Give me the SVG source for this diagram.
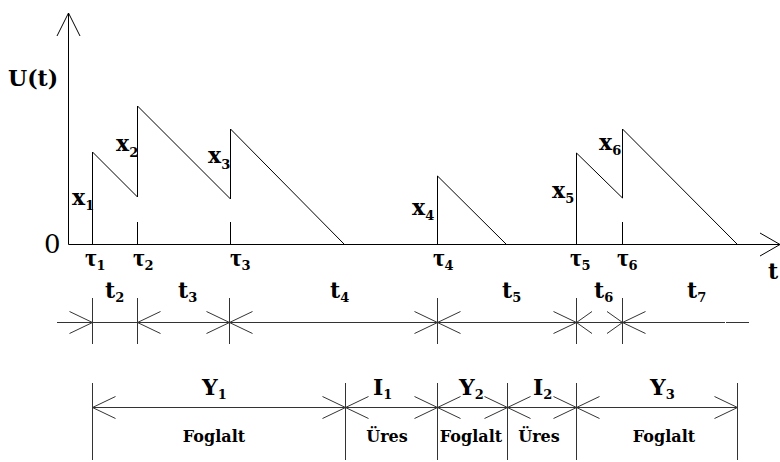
<svg xmlns="http://www.w3.org/2000/svg" xmlns:xlink="http://www.w3.org/1999/xlink" width="780" height="462" viewBox="0 0 780 462">
<style>
.ln{fill:none;stroke:#000;stroke-width:1}
.gl{fill:none;stroke:#333;stroke-width:1}
.lb{font-family:"DejaVu Serif","Liberation Serif",serif;font-weight:bold;font-size:22px;fill:#000}
.sb{font-size:13px}
.tau{font-family:"Liberation Serif","DejaVu Serif",serif;font-weight:bold;font-size:25px;fill:#000}
.tsb{font-family:"DejaVu Serif","Liberation Serif",serif;font-size:13px}
.st{font-family:"DejaVu Serif","Liberation Serif",serif;font-weight:bold;font-size:16px;fill:#000;text-anchor:middle}
</style>
<defs>
<path id="aR" class="gl" d="M-23,-11 L0,0 L-23,11"/>
<path id="aL" class="gl" d="M23,-11 L0,0 L23,11"/>
</defs>
<rect width="780" height="462" fill="#fff"/>
<g id="axes">
<path class="ln" d="M68.5,13 V244.5 H780"/>
<path class="ln" d="M57,36 L68.5,13 L80,36"/>
<path class="ln" d="M760,233 L780,244.5 L760,256"/>
<text class="lb" x="8" y="86">U(t)</text>
<text x="44" y="253" style="font-family:'DejaVu Serif','Liberation Serif',serif;font-size:26px">0</text>
<text class="lb" x="768" y="279">t</text>
</g>
<g id="curve">
<path class="ln" d="M92.5,244 V152 L137.5,197 V106 L230.5,199 V129 L344,244"/>
<path class="ln" d="M137.5,222 V244 M230.5,222 V244"/>
<path class="ln" d="M437.5,244 V176 L506,244"/>
<path class="ln" d="M576.5,244 V153 L622.5,198 V129 L737,244"/>
<path class="ln" d="M622.5,222 V244"/>
</g>
<g id="labels-x">
<text class="lb" x="72" y="205">x<tspan class="sb" dy="5">1</tspan></text>
<text class="lb" x="116" y="151">x<tspan class="sb" dy="6">2</tspan></text>
<text class="lb" x="208" y="163">x<tspan class="sb" dy="6">3</tspan></text>
<text class="lb" x="412" y="215">x<tspan class="sb" dy="5">4</tspan></text>
<text class="lb" x="552" y="198">x<tspan class="sb" dy="5">5</tspan></text>
<text class="lb" x="599" y="150">x<tspan class="sb" dy="5">6</tspan></text>
</g>
<g id="labels-tau">
<text class="tau" x="85" y="266">τ<tspan class="tsb" dy="4" font-weight="bold">1</tspan></text>
<text class="tau" x="133" y="266">τ<tspan class="tsb" dy="4" font-weight="bold">2</tspan></text>
<text class="tau" x="230" y="266">τ<tspan class="tsb" dy="4" font-weight="bold">3</tspan></text>
<text class="tau" x="433" y="266">τ<tspan class="tsb" dy="4" font-weight="bold">4</tspan></text>
<text class="tau" x="570" y="266">τ<tspan class="tsb" dy="4" font-weight="bold">5</tspan></text>
<text class="tau" x="617" y="266">τ<tspan class="tsb" dy="4" font-weight="bold">6</tspan></text>
</g>
<g id="timeline-t">
<path class="gl" d="M57,322.5 H725 M726,322.5 H749"/>
<path class="gl" d="M92.5,298 V344 M137.5,298 V344 M229.5,298 V344 M437.5,298 V344 M576.5,298 V344 M622.5,298 V344"/>
<use xlink:href="#aR" x="92.5" y="322.5"/>
<use xlink:href="#aL" x="137.5" y="322.5"/>
<use xlink:href="#aR" x="229.5" y="322.5"/>
<use xlink:href="#aL" x="229.5" y="322.5"/>
<use xlink:href="#aR" x="437.5" y="322.5"/>
<use xlink:href="#aL" x="437.5" y="322.5"/>
<use xlink:href="#aR" x="576.5" y="322.5"/>
<path class="gl" d="M592,311.5 L576.5,322.5 L592,333.5"/>
<path class="gl" d="M607,311.5 L622.5,322.5 L607,333.5"/>
<use xlink:href="#aL" x="622.5" y="322.5"/>
<text class="lb" x="105" y="298">t<tspan class="sb" dy="4">2</tspan></text>
<text class="lb" x="178" y="298">t<tspan class="sb" dy="4">3</tspan></text>
<text class="lb" x="330" y="298">t<tspan class="sb" dy="4">4</tspan></text>
<text class="lb" x="502" y="298">t<tspan class="sb" dy="4">5</tspan></text>
<text class="lb" x="594" y="298">t<tspan class="sb" dy="4">6</tspan></text>
<text class="lb" x="687" y="298">t<tspan class="sb" dy="4">7</tspan></text>
</g>
<g id="timeline-busy">
<path class="gl" d="M92.5,407.5 H737"/>
<path class="gl" d="M92.5,383 V460 M345.5,383 V460 M437.5,383 V460 M507.5,383 V460 M576.5,383 V460 M737.5,383 V460"/>
<use xlink:href="#aL" x="92.5" y="407.5"/>
<use xlink:href="#aR" x="345.5" y="407.5"/>
<use xlink:href="#aL" x="345.5" y="407.5"/>
<use xlink:href="#aR" x="437.5" y="407.5"/>
<use xlink:href="#aL" x="437.5" y="407.5"/>
<use xlink:href="#aR" x="507.5" y="407.5"/>
<use xlink:href="#aL" x="507.5" y="407.5"/>
<use xlink:href="#aR" x="576.5" y="407.5"/>
<use xlink:href="#aL" x="576.5" y="407.5"/>
<use xlink:href="#aR" x="737.5" y="407.5"/>
<text class="lb" x="202" y="395">Y<tspan class="sb" dy="4">1</tspan></text>
<text class="lb" x="373" y="395">I<tspan class="sb" dy="4">1</tspan></text>
<text class="lb" x="459" y="395">Y<tspan class="sb" dy="4">2</tspan></text>
<text class="lb" x="533" y="395">I<tspan class="sb" dy="4">2</tspan></text>
<text class="lb" x="650" y="395">Y<tspan class="sb" dy="4">3</tspan></text>
<text class="st" x="214" y="442">Foglalt</text>
<text class="st" x="387" y="442">Üres</text>
<text class="st" x="471" y="442">Foglalt</text>
<text class="st" x="539" y="442">Üres</text>
<text class="st" x="664" y="442">Foglalt</text>
</g>
</svg>
